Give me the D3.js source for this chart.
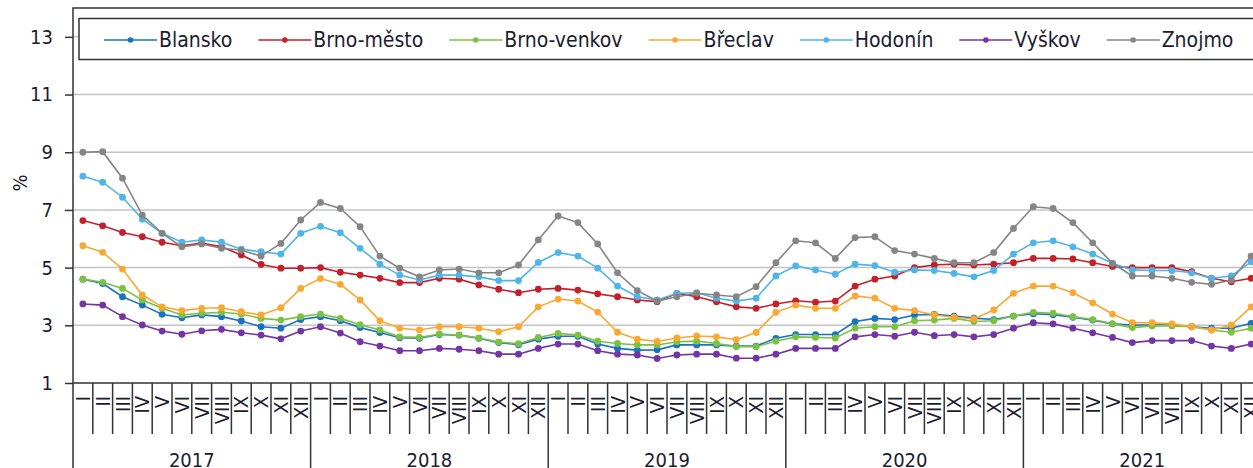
<!DOCTYPE html>
<html>
<head>
<meta charset="utf-8">
<script src="https://cdn.jsdelivr.net/npm/d3@7"></script>
<style>
body { margin: 0; background: #fff; overflow: hidden; }
text { font-family: "DejaVu Sans Condensed", "DejaVu Sans", sans-serif; fill: #1c1c30; }
</style>
</head>
<body>
<svg id="chart" width="1253" height="468"></svg>
<script>
// months I..XII for each year, 2017-2021
var years = ['2017', '2018', '2019', '2020', '2021']
var months = ['I', 'II', 'III', 'IV', 'V', 'VI', 'VII', 'VIII', 'IX', 'X', 'XI', 'XII']
var yTicks = [1, 3, 5, 7, 9, 11, 13]

var blansko = [
	4.6, 4.45, 3.99, 3.7, 3.38, 3.26, 3.36, 3.3, 3.15, 2.95, 2.9, 3.2,
	3.3, 3.16, 2.92, 2.75, 2.57, 2.55, 2.68, 2.66, 2.55, 2.4, 2.33, 2.52,
	2.62, 2.62, 2.35, 2.2, 2.14, 2.15, 2.32, 2.32, 2.32, 2.28, 2.28, 2.55,
	2.68, 2.68, 2.68, 3.13, 3.24, 3.2, 3.36, 3.38, 3.32, 3.25, 3.2, 3.32,
	3.4, 3.37, 3.28, 3.18, 3.05, 3.01, 3.01, 3.01, 2.95, 2.9, 2.9, 3.07
]
var brnoMesto = [
	6.63, 6.45, 6.22, 6.07, 5.88, 5.76, 5.85, 5.72, 5.44, 5.11, 4.98, 4.98,
	5.0, 4.84, 4.74, 4.63, 4.48, 4.48, 4.63, 4.6, 4.4, 4.25, 4.13, 4.25,
	4.28, 4.22, 4.09, 3.99, 3.88, 3.82, 4.11, 3.99, 3.82, 3.64, 3.59, 3.74,
	3.85, 3.8, 3.84, 4.36, 4.6, 4.71, 5.0, 5.09, 5.12, 5.09, 5.12, 5.17,
	5.32, 5.32, 5.3, 5.17, 5.04, 5.0, 5.0, 5.0, 4.86, 4.63, 4.51, 4.63
]
var brnoVenkov = [
	4.6, 4.49, 4.28, 3.88, 3.59, 3.36, 3.42, 3.45, 3.39, 3.24, 3.18, 3.3,
	3.39, 3.24, 3.02, 2.84, 2.6, 2.58, 2.7, 2.66, 2.56, 2.42, 2.36, 2.58,
	2.72, 2.66, 2.45, 2.37, 2.32, 2.32, 2.43, 2.45, 2.37, 2.26, 2.26, 2.45,
	2.6, 2.58, 2.56, 2.9, 2.95, 2.95, 3.16, 3.18, 3.24, 3.13, 3.16, 3.32,
	3.45, 3.42, 3.3, 3.2, 3.05, 2.92, 2.98, 2.98, 2.95, 2.84, 2.76, 2.9
]
var breclav = [
	5.76, 5.53, 4.95, 4.05, 3.64, 3.51, 3.59, 3.61, 3.47, 3.36, 3.61, 4.28,
	4.62, 4.42, 3.88, 3.16, 2.9, 2.84, 2.95, 2.95, 2.9, 2.78, 2.95, 3.64,
	3.91, 3.84, 3.46, 2.76, 2.52, 2.44, 2.56, 2.63, 2.6, 2.5, 2.75, 3.45,
	3.7, 3.59, 3.59, 4.02, 3.94, 3.59, 3.51, 3.36, 3.28, 3.22, 3.53, 4.11,
	4.36, 4.36, 4.13, 3.78, 3.39, 3.09, 3.09, 3.05, 2.95, 2.84, 3.01, 3.64
]
var hodonin = [
	8.17, 7.96, 7.44, 6.68, 6.19, 5.88, 5.96, 5.88, 5.64, 5.55, 5.47, 6.19,
	6.43, 6.21, 5.67, 5.12, 4.74, 4.57, 4.74, 4.74, 4.68, 4.55, 4.55, 5.18,
	5.52, 5.4, 4.98, 4.36, 3.99, 3.88, 4.11, 4.13, 3.94, 3.84, 3.94, 4.71,
	5.06, 4.92, 4.77, 5.12, 5.07, 4.84, 4.92, 4.9, 4.8, 4.68, 4.9, 5.47,
	5.86, 5.93, 5.72, 5.47, 5.15, 4.92, 4.9, 4.9, 4.82, 4.63, 4.71, 5.2
]
var vyskov = [
	3.74, 3.7, 3.3, 3.01, 2.8, 2.69, 2.81, 2.86, 2.74, 2.66, 2.53, 2.8,
	2.95, 2.73, 2.43, 2.28, 2.12, 2.12, 2.2, 2.17, 2.12, 2.0, 2.0, 2.2,
	2.35, 2.35, 2.12, 2.0, 1.97, 1.85, 1.97, 2.0, 2.0, 1.86, 1.86, 2.0,
	2.2, 2.2, 2.2, 2.6, 2.68, 2.62, 2.76, 2.64, 2.68, 2.6, 2.68, 2.9,
	3.09, 3.05, 2.9, 2.74, 2.58, 2.4, 2.47, 2.47, 2.47, 2.28, 2.2, 2.35
]
var znojmo = [
	9.0, 9.02, 8.1, 6.82, 6.19, 5.72, 5.82, 5.67, 5.6, 5.4, 5.84, 6.65,
	7.26, 7.05, 6.42, 5.4, 4.98, 4.68, 4.92, 4.95, 4.82, 4.82, 5.09, 5.96,
	6.79, 6.56, 5.82, 4.82, 4.2, 3.84, 3.99, 4.11, 4.05, 3.99, 4.34, 5.17,
	5.93, 5.86, 5.32, 6.04, 6.07, 5.59, 5.47, 5.32, 5.17, 5.17, 5.52, 6.36,
	7.11, 7.05, 6.56, 5.86, 5.15, 4.71, 4.71, 4.63, 4.49, 4.42, 4.57, 5.4
]

var seriesNames = ['Blansko', 'Brno-město', 'Brno-venkov', 'Břeclav', 'Hodonín', 'Vyškov', 'Znojmo']
var seriesColors = ['#1a72c2', '#c4202b', '#7cc242', '#fba833', '#4fb5e8', '#7335a4', '#858585']
var seriesValues = [blansko, brnoMesto, brnoVenkov, breclav, hodonin, vyskov, znojmo]

var svg = d3.select('#chart'),
	plotL = 73, plotR = 1261, plotT = 8, plotB = 383,
	axisColor = '#333',
	textColor = '#1c1c30',
	fontSize = '20px'

var idx = d3.range(years.length * months.length)
var x = d3.scaleBand().domain(idx).range([plotL, plotR]),
	y = d3.scaleLinear().domain([1, 14]).range([plotB, plotT]),
	bw = x.bandwidth()

// gridlines
svg.append('g')
	.selectAll('line')
	.data(yTicks.slice(1))
	.enter()
	.append('line')
	.attr('x1', plotL).attr('x2', plotR)
	.attr('y1', y).attr('y2', y)
	.attr('stroke', '#c4c4c4')
	.attr('stroke-width', 1.5)

// plot frame
svg.append('rect')
	.attr('x', plotL).attr('y', plotT)
	.attr('width', plotR - plotL).attr('height', plotB - plotT)
	.attr('fill', 'none')
	.attr('stroke', axisColor)
	.attr('stroke-width', 1.5)

// y axis
var yAxis = svg.append('g')
	.attr('transform', 'translate(' + plotL + ',0)')
	.call(d3.axisLeft(y).tickValues(yTicks).tickSize(8).tickPadding(12))
yAxis.select('.domain').remove()
yAxis.selectAll('line').attr('stroke', axisColor).attr('stroke-width', 1.5)
yAxis.selectAll('text').style('font-size', fontSize).attr('fill', textColor)

svg.append('text')
	.attr('transform', 'translate(20,183) rotate(-90)')
	.attr('text-anchor', 'middle')
	.attr('dominant-baseline', 'central')
	.style('font-size', fontSize)
	.text('%')

// x axis: month separators, year separators, labels
var xg = svg.append('g')
xg.selectAll('.sep')
	.data(d3.range(idx.length + 1))
	.enter()
	.append('line')
	.attr('class', 'sep')
	.attr('x1', function(i) { return plotL + i * bw })
	.attr('x2', function(i) { return plotL + i * bw })
	.attr('y1', plotB)
	.attr('y2', function(i) { return i % months.length == 0 ? 470 : 434 })
	.attr('stroke', axisColor)
	.attr('stroke-width', 1.5)

xg.selectAll('.mon')
	.data(idx)
	.enter()
	.append('text')
	.attr('class', 'mon')
	.attr('transform', function(i) { return 'translate(' + (x(i) + bw / 2) + ',396) rotate(-90)' })
	.attr('text-anchor', 'end')
	.attr('dominant-baseline', 'central')
	.style('font-size', fontSize)
	.text(function(i) { return months[i % months.length] })

xg.selectAll('.yr')
	.data(years)
	.enter()
	.append('text')
	.attr('class', 'yr')
	.attr('x', function(d, k) { return x(k * months.length) + bw * months.length / 2 })
	.attr('y', 467)
	.attr('text-anchor', 'middle')
	.style('font-size', fontSize)
	.text(function(d) { return d })

// series, drawn in legend order so Znojmo ends on top
var line = d3.line()
	.x(function(v, i) { return x(i) + bw / 2 })
	.y(function(v) { return y(v) })

svg.append('g')
	.selectAll('g')
	.data(seriesValues)
	.enter()
	.append('g')
	.each(function(vals, s) {
		var g = d3.select(this)
		g.append('path')
			.attr('d', line(vals))
			.attr('fill', 'none')
			.attr('stroke', seriesColors[s])
			.attr('stroke-width', 1.6)
		g.selectAll('circle')
			.data(vals)
			.enter()
			.append('circle')
			.attr('cx', function(v, i) { return x(i) + bw / 2 })
			.attr('cy', function(v) { return y(v) })
			.attr('r', 3.4)
			.attr('fill', seriesColors[s])
	})

// legend
var lg = svg.append('g')
lg.append('rect')
	.attr('x', 79).attr('y', 18.5)
	.attr('width', 1300).attr('height', 41)
	.attr('fill', '#fff')
	.attr('stroke', axisColor)
	.attr('stroke-width', 1.5)

var cursor = 104
seriesNames.forEach(function(name, s) {
	lg.append('line')
		.attr('x1', cursor).attr('x2', cursor + 53)
		.attr('y1', 40).attr('y2', 40)
		.attr('stroke', seriesColors[s])
		.attr('stroke-width', 1.6)
	lg.append('circle')
		.attr('cx', cursor + 26.5).attr('cy', 40)
		.attr('r', 2.8)
		.attr('fill', seriesColors[s])
	var t = lg.append('text')
		.attr('x', cursor + 55).attr('y', 40)
		.attr('dominant-baseline', 'central')
		.style('font-size', '21px')
		.text(name)
	cursor += 55 + t.node().getComputedTextLength() + 26
})
</script>
</body>
</html>
